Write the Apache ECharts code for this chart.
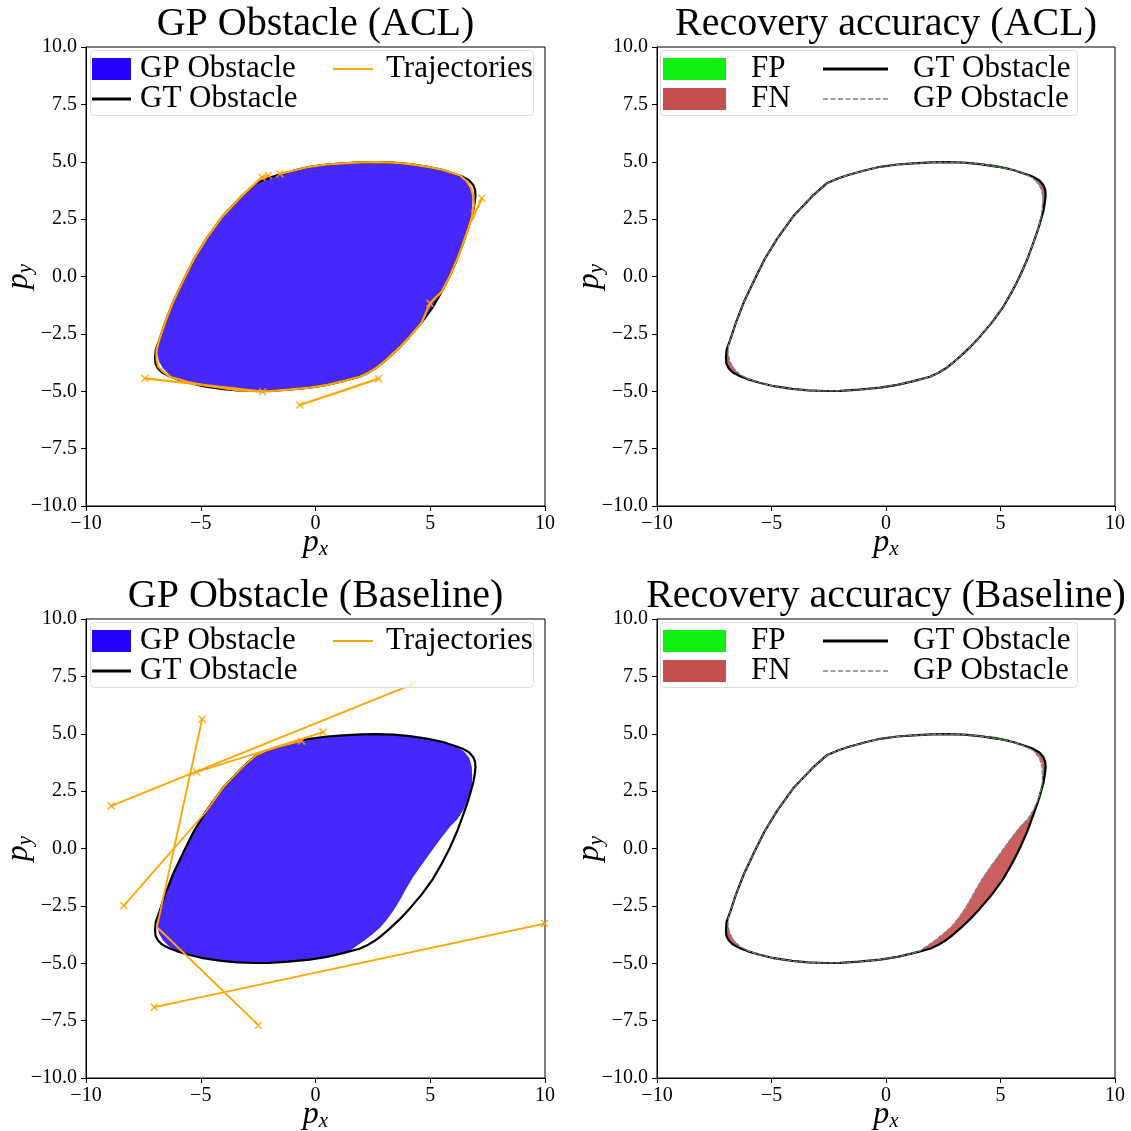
<!DOCTYPE html>
<html><head><meta charset="utf-8">
<script src="https://cdn.jsdelivr.net/npm/echarts@6/dist/echarts.min.js"></script>
<style>html,body{margin:0;padding:0;background:#fff}#c{width:1131px;height:1131px}</style>
</head><body><div id="c"></div><script>
// ---------------- data ----------------
const titles = ['GP Obstacle (ACL)', 'Recovery accuracy (ACL)', 'GP Obstacle (Baseline)', 'Recovery accuracy (Baseline)'];
const xTickValues = [-10, -5, 0, 5, 10];
const yTickValues = [-10, -7.5, -5, -2.5, 0, 2.5, 5, 7.5, 10];

// ground-truth obstacle boundary (closed)
const gtBoundary = [
  [-2.59,4.06],[-2.1,4.27],[-1.65,4.42],[-0.9,4.63],[-0.26,4.78],[0.5,4.88],[1.19,4.93],[2.0,4.97],[2.65,4.98],
  [3.4,4.96],[4.10,4.90],[4.9,4.78],[5.56,4.64],[6.05,4.48],[6.43,4.34],[6.7,4.18],[6.87,3.99],[6.95,3.78],
  [6.97,3.55],[6.94,3.25],[6.88,2.9],[6.80,2.61],[6.64,2.05],[6.43,1.45],[6.17,0.75],[5.85,0.02],[5.5,-0.66],
  [5.12,-1.32],[4.63,-2.0],[4.10,-2.62],[3.65,-3.1],[3.23,-3.49],[2.9,-3.78],[2.58,-4.02],[2.25,-4.22],[1.92,-4.37],
  [1.2,-4.56],[0.5,-4.72],[-0.26,-4.84],[-1.19,-4.93],[-2.0,-4.98],[-2.65,-4.99],[-3.4,-4.96],[-4.10,-4.90],
  [-4.9,-4.78],[-5.56,-4.62],[-6.05,-4.47],[-6.43,-4.32],[-6.7,-4.17],[-6.87,-4.0],[-6.97,-3.8],[-6.99,-3.55],
  [-6.96,-3.2],[-6.8,-2.75],[-6.55,-2.0],[-6.2,-1.1],[-5.75,-0.15],[-5.3,0.75],[-4.75,1.65],[-4.05,2.62],
  [-3.23,3.49],[-2.59,4.06]
];
// GP obstacle recovered with ACL (closed)
const gpAcl = [
  [-2.59,4.06],[-2.1,4.27],[-1.65,4.42],[-0.9,4.63],[-0.26,4.78],[0.5,4.88],[1.19,4.93],[2.0,4.97],[2.65,4.98],
  [3.4,4.96],[4.10,4.90],[4.9,4.78],[5.56,4.64],[6.05,4.48],[6.4,4.3],[6.65,4.05],[6.8,3.75],[6.85,3.4],
  [6.82,3.0],[6.78,2.61],[6.64,2.05],[6.43,1.45],[6.17,0.75],[5.85,0.02],[5.5,-0.66],
  [5.12,-1.32],[4.63,-2.0],[4.10,-2.62],[3.65,-3.1],[3.23,-3.49],[2.9,-3.78],[2.58,-4.02],[2.25,-4.22],[1.92,-4.37],
  [1.2,-4.56],[0.5,-4.72],[-0.26,-4.84],[-1.19,-4.93],[-2.0,-4.98],[-2.65,-4.99],[-3.4,-4.96],[-4.10,-4.90],
  [-4.9,-4.78],[-5.56,-4.62],[-6.05,-4.45],[-6.4,-4.25],[-6.65,-4.0],[-6.82,-3.7],[-6.9,-3.35],[-6.88,-3.0],
  [-6.8,-2.75],[-6.55,-2.0],[-6.2,-1.1],[-5.75,-0.15],[-5.3,0.75],[-4.75,1.65],[-4.05,2.62],
  [-3.23,3.49],[-2.59,4.06]
];
// GP obstacle recovered with the baseline (closed)
const gpBase = [
  [-2.59,4.06],[-2.1,4.27],[-1.65,4.42],[-0.9,4.63],[-0.26,4.78],[0.5,4.88],[1.19,4.93],[2.0,4.97],[2.65,4.98],
  [3.4,4.96],[4.10,4.90],[4.9,4.78],[5.56,4.64],[6.05,4.46],[6.44,4.26],[6.7,3.95],[6.81,3.56],[6.83,3.1],
  [6.81,2.69],[6.65,2.15],[6.44,1.68],[6.2,1.3],[5.86,0.95],[5.45,0.42],[4.99,-0.21],[4.6,-0.75],[4.26,-1.23],
  [3.95,-1.75],[3.68,-2.24],[3.4,-2.7],[3.10,-3.12],[2.82,-3.44],[2.52,-3.70],[2.15,-4.0],[1.79,-4.25],[1.5,-4.45],
  [1.2,-4.56],[0.5,-4.72],[-0.26,-4.84],[-1.19,-4.93],[-2.0,-4.98],[-2.65,-4.99],[-3.4,-4.96],[-4.10,-4.90],
  [-4.9,-4.78],[-5.56,-4.62],[-6.05,-4.45],[-6.4,-4.25],[-6.65,-4.0],[-6.82,-3.7],[-6.9,-3.35],[-6.88,-3.0],
  [-6.8,-2.75],[-6.55,-2.0],[-6.2,-1.1],[-5.75,-0.15],[-5.3,0.75],[-4.75,1.65],[-4.05,2.62],
  [-3.23,3.49],[-2.59,4.06]
];
// false negative regions
const fnCornerUR = [[6.43,4.34],[6.7,4.18],[6.87,3.99],[6.95,3.78],[6.97,3.55],[6.94,3.25],[6.88,2.9],[6.82,3.0],[6.85,3.4],[6.8,3.75],[6.65,4.05],[6.4,4.3]];
const fnCornerLL = [[-6.43,-4.32],[-6.7,-4.17],[-6.87,-4.0],[-6.97,-3.8],[-6.99,-3.55],[-6.96,-3.2],[-6.88,-3.0],[-6.9,-3.35],[-6.82,-3.7],[-6.65,-4.0],[-6.4,-4.25]];
const fnBaseRight = [
  [6.72,2.3],[6.64,2.05],[6.43,1.45],[6.17,0.75],[5.85,0.02],[5.5,-0.66],[5.12,-1.32],[4.63,-2.0],[4.10,-2.62],
  [3.65,-3.1],[3.23,-3.49],[2.9,-3.78],[2.58,-4.02],[2.25,-4.22],[1.92,-4.37],[1.5,-4.47],[1.79,-4.25],[2.15,-4.0],
  [2.52,-3.70],[2.82,-3.44],[3.10,-3.12],[3.4,-2.7],[3.68,-2.24],[3.95,-1.75],[4.26,-1.23],[4.6,-0.75],[4.99,-0.21],
  [5.45,0.42],[5.86,0.95],[6.2,1.3],[6.44,1.68],[6.6,2.05]
];
// false positive slivers
const fpTop = [[4.5,4.88],[5.4,4.70],[5.42,4.74],[4.5,4.92]];
const fpRight = [[6.9,2.9],[6.68,2.15],[6.72,2.15],[6.94,2.9]];

// trajectories (ACL)
const trajAcl1 = [[-2.34,4.32],[-2.6,4.08],[-3.23,3.49],[-4.05,2.62],[-4.75,1.65],[-5.3,0.75],[-5.75,-0.15],[-6.2,-1.1],[-6.55,-2.0],[-6.8,-2.75],[-6.93,-3.2],[-6.93,-3.6],[-6.85,-3.93],[-6.6,-4.18],[-6.34,-4.37],[-5.56,-4.6],[-4.74,-4.76],[-3.4,-4.95],[-2.30,-5.02]];
const trajAcl2 = [[-7.43,-4.44],[-2.30,-5.02]];
const trajAcl3 = [[-0.68,-5.6],[2.75,-4.45]];
const trajAcl4 = [[-2.30,-5.02],[-1.19,-4.93],[-0.26,-4.84],[0.5,-4.72],[1.2,-4.56],[1.92,-4.37],[2.25,-4.22],[2.58,-4.02],[2.9,-3.78],[3.23,-3.49],[3.65,-3.1],[4.10,-2.62],[4.63,-2.0],[4.99,-1.17]];
const trajAcl5 = [[4.99,-1.17],[5.5,-0.66],[5.85,0.02],[6.17,0.75],[6.43,1.45],[6.64,2.05],[6.81,2.6],[6.9,3.1],[6.88,3.5],[6.78,3.85],[6.6,4.15],[6.3,4.4],[5.56,4.64],[4.9,4.78],[4.10,4.90],[3.4,4.96],[2.65,4.98],[2.0,4.97],[1.19,4.93],[0.5,4.88],[-0.26,4.78],[-0.9,4.63],[-1.55,4.47]];
const trajAcl6 = [[7.25,3.41],[6.81,2.45]];
const trajAcl7 = [[-2.05,4.40],[-2.34,4.32]];
const markersAcl = [[-2.34,4.32],[-2.05,4.40],[-1.55,4.47],[7.25,3.41],[4.99,-1.17],[2.75,-4.45],[-0.68,-5.6],[-2.30,-5.02],[-7.43,-4.44]];

// trajectories (Baseline)
const trajBase1 = [[-8.9,1.86],[4.24,7.16]];
const trajBase2 = [[-5.19,3.33],[0.33,5.07]];
const trajBase3 = [[-4.94,5.64],[-6.91,-3.42],[-2.49,-7.7]];
const trajBase4 = [[-8.35,-2.49],[-4.79,1.58],[-4.05,2.62],[-3.23,3.49],[-2.59,4.06],[-2.1,4.27],[-1.65,4.42],[-0.61,4.69]];
const trajBase5 = [[-7.02,-6.91],[9.98,-3.27]];
const markersBase = [[4.24,7.16],[-4.94,5.64],[0.33,5.07],[-0.61,4.69],[-5.19,3.33],[-8.9,1.86],[-8.35,-2.49],[9.98,-3.27],[-7.02,-6.91],[-2.49,-7.7]];

// ---------------- styling ----------------
const FONT = "'Liberation Serif', 'DejaVu Serif', serif";
const BLUE_FILL = '#4628ff', BLUE_PATCH = '#2200ff';
const ORANGE = '#ffa500';
const GREEN = '#10f010', RED_PATCH = '#c55050', RED_FILL = 'rgba(197,78,78,0.9)';
const GRAY = '#7f7f7f';

const grids = [
  {left: 86, top: 47, width: 459, height: 459},
  {left: 657, top: 47, width: 458, height: 459},
  {left: 86, top: 619, width: 459, height: 459},
  {left: 657, top: 619, width: 458, height: 459}
];

function fmtSigned(v, d) {
  const s = d ? Math.abs(v).toFixed(d) : String(Math.abs(v));
  return '{t|' + (v < 0 ? '\u2212' : '') + s + '}';
}
const richTick = {t: {fontFamily: FONT, fontSize: 20, color: '#000'}};
const richName = {
  p: {fontFamily: FONT, fontStyle: 'italic', fontSize: 32, lineHeight: 34, color: '#000'},
  s: {fontFamily: FONT, fontStyle: 'italic', fontSize: 21, lineHeight: 12, verticalAlign: 'bottom', color: '#000'}
};
function makeXAxis(i) {
  return {
    gridIndex: i, type: 'value',
    min: xTickValues[0], max: xTickValues[xTickValues.length - 1], interval: xTickValues[1] - xTickValues[0],
    axisLine: {show: true, onZero: false, lineStyle: {color: '#000', width: 1}},
    axisTick: {show: true, inside: false, length: 5, lineStyle: {color: '#000', width: 1}},
    axisLabel: {color: '#000', fontFamily: FONT, fontSize: 20, margin: 8, showMinLabel: true, showMaxLabel: true, hideOverlap: false,
      formatter: v => fmtSigned(v, 0), rich: richTick},
    splitLine: {show: false},
    name: '{p|p}{s|x}', nameLocation: 'middle', nameGap: 20, nameMoveOverlap: false,
    nameTextStyle: {rich: richName}
  };
}
function makeYAxis(i) {
  return {
    gridIndex: i, type: 'value',
    min: yTickValues[0], max: yTickValues[yTickValues.length - 1], interval: yTickValues[1] - yTickValues[0],
    axisLine: {show: true, onZero: false, lineStyle: {color: '#000', width: 1}},
    axisTick: {show: true, inside: false, length: 5, lineStyle: {color: '#000', width: 1}},
    axisLabel: {color: '#000', fontFamily: FONT, fontSize: 20, margin: 9, showMinLabel: true, showMaxLabel: true, hideOverlap: false,
      formatter: v => fmtSigned(v, 1), rich: richTick},
    splitLine: {show: false},
    name: '{p|p}{s|y}', nameLocation: 'middle', nameGap: 50, nameMoveOverlap: false,
    nameTextStyle: {rich: richName}
  };
}

function polygonSeries(name, pts, fill, gi, z) {
  return {
    type: 'custom', name, xAxisIndex: gi, yAxisIndex: gi, z, silent: true, animation: false,
    data: pts, itemStyle: {color: fill},
    renderItem(params, api) {
      if (params.dataIndex !== 0) return null;
      const points = pts.map(p => api.coord(p));
      return {type: 'polygon', shape: {points}, style: {fill: fill, stroke: null}};
    }
  };
}
function lineSeries(name, pts, color, width, gi, z, dash) {
  return {
    type: 'line', name, xAxisIndex: gi, yAxisIndex: gi, z, silent: true, animation: false,
    data: pts, showSymbol: false, symbol: 'none', smooth: false,
    lineStyle: {color, width, type: dash || 'solid', cap: 'round', join: 'round'},
    itemStyle: {color}
  };
}
function markerSeries(pts, gi) {
  return {
    type: 'scatter', name: 'Trajectory ends', xAxisIndex: gi, yAxisIndex: gi, z: 6, silent: true, animation: false,
    data: pts, symbol: 'path://M0,0L10,10M10,0L0,10', symbolSize: 7,
    itemStyle: {color: 'rgba(0,0,0,0)', borderColor: ORANGE, borderWidth: 1.6}
  };
}

const series = [];
// panel 0: GP obstacle (ACL)
series.push(polygonSeries('GP Obstacle', gpAcl, BLUE_FILL, 0, 2));
series.push(lineSeries('GT Obstacle', gtBoundary, '#000', 2.2, 0, 3));
[trajAcl1, trajAcl2, trajAcl3, trajAcl4, trajAcl5, trajAcl6, trajAcl7].forEach(t => series.push(lineSeries('Trajectories', t, ORANGE, 2.2, 0, 4)));
series.push(markerSeries(markersAcl, 0));
// panel 1: recovery accuracy (ACL)
[fpTop, fpRight].forEach(p => series.push(polygonSeries('FP', p, GREEN, 1, 2)));
[fnCornerUR, fnCornerLL].forEach(p => series.push(polygonSeries('FN', p, RED_FILL, 1, 2)));
series.push(lineSeries('GT Obstacle', gtBoundary, '#000', 2.2, 1, 3));
series.push(lineSeries('GP Obstacle', gpAcl, GRAY, 1.2, 1, 4, [4, 2]));
// panel 2: GP obstacle (Baseline)
series.push(polygonSeries('GP Obstacle', gpBase, BLUE_FILL, 2, 2));
series.push(lineSeries('GT Obstacle', gtBoundary, '#000', 2.2, 2, 3));
[trajBase1, trajBase2, trajBase3, trajBase4, trajBase5].forEach(t => series.push(lineSeries('Trajectories', t, ORANGE, 1.8, 2, 4)));
series.push(markerSeries(markersBase, 2));
// panel 3: recovery accuracy (Baseline)
[fpTop, fpRight].forEach(p => series.push(polygonSeries('FP', p, GREEN, 3, 2)));
[fnBaseRight, fnCornerUR, fnCornerLL].forEach(p => series.push(polygonSeries('FN', p, RED_FILL, 3, 2)));
series.push(lineSeries('GT Obstacle', gtBoundary, '#000', 2.2, 3, 3));
series.push(lineSeries('GP Obstacle', gpBase, GRAY, 1.2, 3, 4, [4, 2]));

// legends: one component per entry
const DASH_ICON = 'path://M0,0h5v1.6h-5zM7.5,0h5v1.6h-5zM15,0h5v1.6h-5zM22.5,0h5v1.6h-5zM30,0h5v1.6h-5zM37.5,0h5v1.6h-5zM45,0h5v1.6h-5zM52.5,0h5v1.6h-5zM60,0h5v1.6h-5z';
function legendEntry(name, left, cy, w, h, icon, color, padLeft) {
  return {
    left, top: cy - 11, orient: 'horizontal', padding: 0, itemWidth: w, itemHeight: h, selectedMode: false, z: 8,
    textStyle: {fontFamily: FONT, fontSize: 31, color: '#000', lineHeight: 22, padding: [0, 0, 0, padLeft]},
    data: [{name, icon, itemStyle: {color, borderWidth: 0, opacity: 1}}]
  };
}
const legends = [];
[0, 572].forEach(dy => {
  legends.push(legendEntry('GP Obstacle', 92, 64.5 + dy, 39, 22, 'rect', BLUE_PATCH, 4));
  legends.push(legendEntry('GT Obstacle', 92, 94.5 + dy, 39, 2.8, 'rect', '#000', 4));
  legends.push(legendEntry('Trajectories', 333, 64.5 + dy, 40, 2, 'rect', ORANGE, 8));
  legends.push(legendEntry('FP', 663, 64.5 + dy, 63, 22, 'rect', GREEN, 20));
  legends.push(legendEntry('FN', 663, 94.5 + dy, 63, 22, 'rect', RED_PATCH, 20));
  legends.push(legendEntry('GT Obstacle', 823, 64.5 + dy, 65, 2.8, 'rect', '#000', 20));
  legends.push(legendEntry('GP Obstacle', 823, 94.5 + dy, 65, 1.6, DASH_ICON, GRAY, 20));
});
const legendBoxes = [];
[0, 572].forEach(dy => {
  legendBoxes.push({type: 'rect', z: 7, shape: {x: 90.5, y: 50.5 + dy, width: 443, height: 65, r: 4},
    style: {fill: 'rgba(255,255,255,0.8)', stroke: '#dcdcdc', lineWidth: 1}});
  legendBoxes.push({type: 'rect', z: 7, shape: {x: 660.5, y: 50.5 + dy, width: 417, height: 65, r: 4},
    style: {fill: 'rgba(255,255,255,0.8)', stroke: '#dcdcdc', lineWidth: 1}});
});

const chart = echarts.init(document.getElementById('c'), null, {renderer: 'canvas'});
chart.setOption({
  animation: false,
  backgroundColor: '#fff',
  textStyle: {fontFamily: FONT},
  title: titles.map((t, i) => ({
    text: t, left: grids[i].left + grids[i].width / 2, top: i < 2 ? 4 : 576, textAlign: 'center', padding: 0,
    textStyle: {fontFamily: FONT, fontSize: 40, fontWeight: 'normal', color: '#000'}
  })),
  grid: grids.map(g => Object.assign({show: true, borderColor: '#000', borderWidth: 1, backgroundColor: 'transparent',
    containLabel: false, outerBoundsMode: 'none'}, g)),
  xAxis: grids.map((g, i) => makeXAxis(i)),
  yAxis: grids.map((g, i) => makeYAxis(i)),
  legend: legends,
  graphic: {elements: legendBoxes},
  series
});
</script></body></html>
